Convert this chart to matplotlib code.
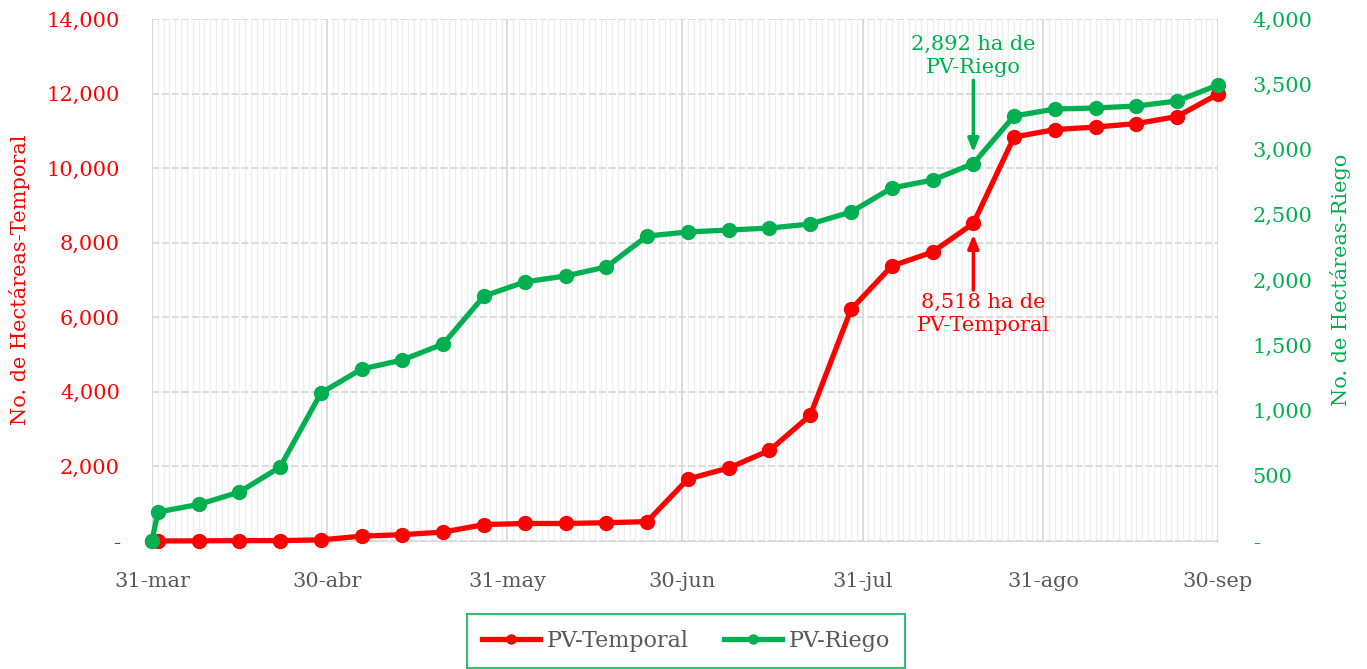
import matplotlib
matplotlib.use('Agg')
import matplotlib.pyplot as plt
import matplotlib.dates as mdates
from matplotlib.ticker import FuncFormatter, MultipleLocator
import datetime as dt

# ---------------- data ----------------
fechas = ['2020-03-31', '2020-04-01', '2020-04-08', '2020-04-15', '2020-04-22', '2020-04-29',
          '2020-05-06', '2020-05-13', '2020-05-20', '2020-05-27', '2020-06-03', '2020-06-10',
          '2020-06-17', '2020-06-24', '2020-07-01', '2020-07-08', '2020-07-15', '2020-07-22',
          '2020-07-29', '2020-08-05', '2020-08-12', '2020-08-19', '2020-08-26', '2020-09-02',
          '2020-09-09', '2020-09-16', '2020-09-23', '2020-09-30']

pv_temporal = [0, 0, 5, 10, 10, 30, 130, 170, 240, 440, 470, 470, 490, 520,
               1663, 1958, 2430, 3370, 6210, 7375, 7750, 8518, 10834, 11035,
               11102, 11195, 11385, 11987]

pv_riego = [0, 222, 280, 375, 567, 1134, 1318, 1387, 1510, 1877, 1985, 2031,
            2100, 2337, 2368, 2383, 2398, 2429, 2521, 2705, 2766, 2892, 3257,
            3310, 3318, 3333, 3372, 3494]

mes_ticks = ['2020-03-31', '2020-04-30', '2020-05-31', '2020-06-30', '2020-07-31', '2020-08-31', '2020-09-30']
mes_labels = ['31-mar', '30-abr', '31-may', '30-jun', '31-jul', '31-ago', '30-sep']

ROJO = '#FF0000'
VERDE = '#00B050'
GRIS = '#595959'

plt.rcParams['font.family'] = ['DejaVu Serif']

x = [dt.datetime.strptime(f, '%Y-%m-%d') for f in fechas]
xt = [dt.datetime.strptime(f, '%Y-%m-%d') for f in mes_ticks]

fig = plt.figure(figsize=(13.67, 6.69), dpi=100)
ax1 = fig.add_axes([152/1367, 1-541/669, (1218-152)/1367, (541-19)/669])
ax2 = ax1.twinx()

# grid
ax1.set_xlim(xt[0], xt[-1])
ax1.xaxis.set_minor_locator(mdates.DayLocator())
ax1.set_xticks(xt)
ax1.set_xticklabels(mes_labels)
ax1.grid(True, which='minor', axis='x', color='#efefef', lw=1.0)
ax1.grid(True, which='major', axis='x', color='#d9d9d9', lw=1.3)
ax1.grid(True, which='major', axis='y', color='#d9d9d9', lw=1.3, linestyle=(0, (4, 1.5)))
ax1.set_axisbelow(True)

ax1.set_ylim(0, 14000)
ax1.yaxis.set_major_locator(MultipleLocator(2000))
ax2.set_ylim(0, 4000)
ax2.yaxis.set_major_locator(MultipleLocator(500))

fmt = FuncFormatter(lambda v, p: '-' if v == 0 else f'{v:,.0f}')
ax1.yaxis.set_major_formatter(fmt)
ax2.yaxis.set_major_formatter(fmt)

l1, = ax1.plot(x, pv_temporal, color=ROJO, lw=3.8, marker='o', ms=10, clip_on=False,
               zorder=3, label='PV-Temporal')
l2, = ax2.plot(x, pv_riego, color=VERDE, lw=3.8, marker='o', ms=10, clip_on=False,
               zorder=3, label='PV-Riego')

for a in (ax1, ax2):
    for s in a.spines.values():
        s.set_visible(False)
ax1.spines['left'].set_visible(True)
ax1.spines['left'].set_color('#d9d9d9')
ax1.spines['bottom'].set_visible(True)
ax1.spines['bottom'].set_color('#d9d9d9')

ax1.tick_params(axis='x', which='both', length=0, labelsize=15, labelcolor=GRIS, pad=22)
ax1.tick_params(axis='y', length=0, labelsize=15, labelcolor=ROJO, pad=23)
ax2.tick_params(axis='y', length=0, labelsize=15, labelcolor=VERDE, pad=25)

ax1.set_ylabel('No. de Hectáreas-Temporal', color=ROJO, fontsize=15, labelpad=12)
ax2.set_ylabel('No. de Hectáreas-Riego', color=VERDE, fontsize=15, labelpad=12)

# annotations
i = fechas.index('2020-08-19')
flecha = dict(arrowstyle='-|>,head_length=0.8,head_width=0.32', lw=2.5, shrinkA=0, shrinkB=8)
ax2.annotate('', xy=(x[i], pv_riego[i]), xytext=(0, 60), textcoords='offset points',
             arrowprops=dict(flecha, color=VERDE))
ax2.annotate('2,892 ha de\nPV-Riego', xy=(x[i], pv_riego[i]), xytext=(0, 62),
             textcoords='offset points', ha='center', va='bottom', color=VERDE,
             fontsize=15, linespacing=1.3)
ax1.annotate('', xy=(x[i], pv_temporal[i]), xytext=(0, -48), textcoords='offset points',
             arrowprops=dict(flecha, color=ROJO))
ax1.annotate('8,518 ha de\nPV-Temporal', xy=(x[i], pv_temporal[i]), xytext=(7, -50),
             textcoords='offset points', ha='center', va='top', color=ROJO,
             fontsize=15, linespacing=1.3)

leg = fig.legend(handles=[l1, l2], loc='center', bbox_to_anchor=(686/1367, 1-641/669),
                 ncol=2, frameon=True, fancybox=False, fontsize=16, handlelength=2.6,
                 markerscale=0.65, columnspacing=1.6, borderpad=0.7, borderaxespad=0,
                 handletextpad=0.3)
leg.get_frame().set_edgecolor(VERDE)
leg.get_frame().set_linewidth(1.5)
for t in leg.get_texts():
    t.set_color(GRIS)

fig.savefig('out.png', dpi=100)
